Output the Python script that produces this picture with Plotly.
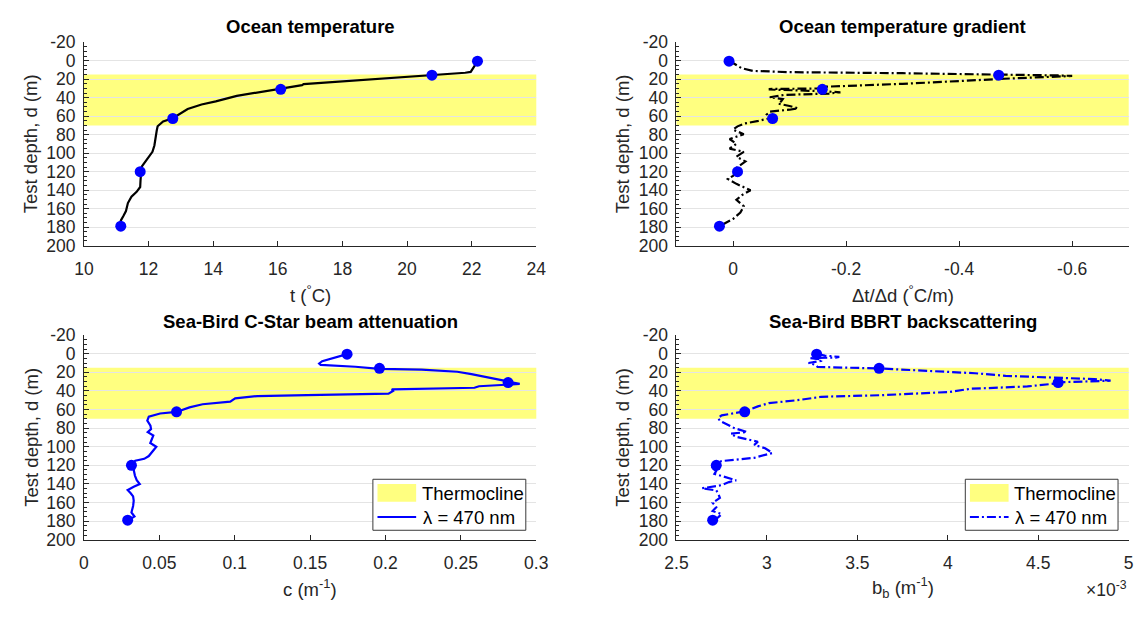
import plotly.graph_objects as go

# ---------------- data ----------------
temp_depth = [0.7, 5, 10, 12.1, 13, 15.6, 18.3, 20.8, 23.2, 25.3, 26.5, 30.4, 33.9, 38, 44, 47.4,
              52.2, 58.8, 62.3, 65.7, 70.9, 76, 81.3, 86, 91.7, 98.6, 103.8, 109, 114, 119.3,
              125, 130, 136.6, 141.8, 147, 154, 162.6, 168, 173, 178.8]
temp_c = [22.18, 22.1, 22.03, 21.97, 21.8, 20.77, 19.74, 18.65, 17.56, 16.8, 16.75, 16.09, 15.38,
          14.73, 14.08, 13.64, 13.21, 12.88, 12.75, 12.45, 12.28, 12.25, 12.23, 12.2, 12.18, 12.12,
          12.01, 11.9, 11.8, 11.74, 11.76, 11.75, 11.74, 11.63, 11.47, 11.36, 11.3, 11.22, 11.14, 11.14]

grad_depth = [0, 4, 8, 11, 12.4, 13.5, 14.5, 15.3, 16.0, 16.5, 17.5, 19.5, 22, 25, 28.2, 30, 30.6,
              31.2, 33, 34.2, 35.5, 37, 39.5, 41.5, 44, 46.5, 49, 51.5, 53, 55, 58, 61.5, 65, 68,
              71, 74.5, 79.5, 84.7, 89.9, 95.1, 98.6, 103.8, 109, 115.9, 120, 124.5, 128, 133.2,
              140.1, 145.3, 150.5, 157.4, 164.3, 171.2, 176, 179]
grad_val = [0.007, -0.003, -0.015, -0.035, -0.1, -0.3, -0.44, -0.52, -0.58, -0.6, -0.55, -0.48,
            -0.40, -0.30, -0.16, -0.155, -0.065, -0.065, -0.16, -0.19, -0.17, -0.09, -0.065, -0.088,
            -0.085, -0.08, -0.1, -0.115, -0.1, -0.065, -0.06, -0.07, -0.045, -0.02, -0.008, 0.0,
            -0.019, 0.006, -0.006, 0.006, -0.019, -0.006, -0.022, -0.006, -0.008, 0.0, 0.009, -0.006,
            -0.031, -0.016, -0.006, -0.019, -0.013, 0.0, 0.015, 0.024]

atten_depth = [0.5, 4, 8, 10.5, 12, 14, 16.2, 17, 19.4, 22, 25.6, 29, 32.5, 33.5, 35, 36.6, 38.4,
               40, 42.9, 44.6, 45.5, 48, 51.5, 54.3, 57.7, 62.6, 64.3, 67.7, 72, 77.4, 81, 84.3,
               88, 92, 96, 100, 105, 110, 113, 115, 118, 120.6, 125, 131, 136, 140.2, 143, 146.5,
               150, 153.4, 158, 163.7, 170.6, 175, 179.3]
atten_c = [0.1745, 0.166, 0.158, 0.156, 0.157, 0.18, 0.196, 0.224, 0.2476, 0.257, 0.269, 0.2786,
           0.289, 0.28, 0.262, 0.259, 0.2042, 0.205, 0.202, 0.148, 0.115, 0.1003, 0.097, 0.0787,
           0.07, 0.0614, 0.0505, 0.043, 0.042, 0.0441, 0.0445, 0.0423, 0.046, 0.045, 0.044, 0.048,
           0.0455, 0.043, 0.040, 0.034, 0.032, 0.0315, 0.033, 0.0338, 0.035, 0.037, 0.033, 0.029,
           0.031, 0.0326, 0.033, 0.0326, 0.0315, 0.0335, 0.029]

bb_depth = [0.5, 2, 3.5, 4.1, 4.8, 6, 7.6, 9, 10, 12, 14.2, 15.9, 18.6, 21, 23.8, 25.6, 27.3, 29,
            30.7, 32, 35.2, 37.7, 41.1, 44.6, 46.3, 49.7, 53.2, 56.6, 61.8, 66.3, 69, 72.2, 77.3,
            80, 84.2, 86, 89.4, 94.6, 98, 101.6, 106.7, 111.9, 115.4, 118, 120, 122.3, 126, 129.2,
            132, 136.1, 138, 141.3, 144.7, 147, 149.9, 155, 160.3, 165, 169, 172.4, 176, 180.3]
bb_e3 = [3.28, 3.32, 3.4, 3.38, 3.24, 3.30, 3.30, 3.25, 3.23, 3.27, 3.28, 3.625, 3.93, 4.15, 4.32,
         4.62, 4.81, 4.90, 4.62, 4.6, 4.44, 4.125, 4.01, 3.635, 3.30, 3.18, 3.01, 2.95, 2.88, 2.75,
         2.73, 2.74, 2.79, 2.82, 2.89, 2.80, 2.83, 2.95, 2.93, 2.99, 3.03, 2.93, 2.75, 2.72, 2.74,
         2.69, 2.72, 2.71, 2.76, 2.83, 2.79, 2.75, 2.64, 2.72, 2.73, 2.74, 2.70, 2.72, 2.70, 2.75,
         2.73, 2.70]

marker_depth = [0.5, 15.7, 31, 62.5, 120, 179]
temp_marker = [22.18, 20.77, 16.09, 12.75, 11.74, 11.14]
grad_marker = [0.007, -0.47, -0.158, -0.07, -0.008, 0.024]
atten_marker = [0.1745, 0.196, 0.2813, 0.0614, 0.0315, 0.029]
bb_marker = [3.275, 3.62, 4.61, 2.877, 2.72, 2.70]

thermocline_top, thermocline_bottom = 15, 70

depth_ticks = list(range(-20, 201, 20))
depth_minor = list(range(-20, 201, 5))
temp_ticks = [10, 12, 14, 16, 18, 20, 22, 24]
grad_ticks = [0, -0.2, -0.4, -0.6]
grad_ticktext = ["0", "-0.2", "-0.4", "-0.6"]
atten_ticks = [0, 0.05, 0.1, 0.15, 0.2, 0.25, 0.3]
atten_ticktext = ["0", "0.05", "0.1", "0.15", "0.2", "0.25", "0.3"]
bb_ticks = [2.5, 3, 3.5, 4, 4.5, 5]
bb_ticktext = ["2.5", "3", "3.5", "4", "4.5", "5"]

# ---------------- layout helpers ----------------
W, H = 1146, 617
FONT = "Liberation Sans, Arial, Helvetica, sans-serif"
AX = "#262626"
BLUE = "#0000ff"
YELLOW = "#ffff80"
GRID = "#e4e4e4"
DASHDOT = "9px,3px,2px,3px"


def X(px):
    return px / W


def Y(py):
    return 1 - py / H


COL_L = (73.5, 535.5)
COL_R = (678.7, 1140.6)
ROW_T = (33.3, 243.5)
ROW_B = (336.0, 547.5)

fig = go.Figure()

panels = [
    ("x", COL_L, ROW_T),
    ("x2", COL_R, ROW_T),
    ("x3", COL_L, ROW_B),
    ("x4", COL_R, ROW_B),
]

series = [
    (temp_c, temp_depth, temp_marker, "#000000", "solid"),
    (grad_val, grad_depth, grad_marker, "#000000", DASHDOT),
    (atten_c, atten_depth, atten_marker, BLUE, "solid"),
    (bb_e3, bb_depth, bb_marker, BLUE, DASHDOT),
]

for i, ((xs, ys, mx, col, dash), (xid, c, r)) in enumerate(zip(series, panels)):
    yid = "y" if i == 0 else f"y{i + 1}"
    fig.add_trace(go.Scatter(x=xs, y=ys, mode="lines", xaxis=xid, yaxis=yid,
                             line=dict(color=col, width=2.2, dash=dash), showlegend=False,
                             hoverinfo="skip"))
    fig.add_trace(go.Scatter(x=mx, y=marker_depth, mode="markers", xaxis=xid, yaxis=yid,
                             marker=dict(color=BLUE, size=11, line=dict(width=0)),
                             showlegend=False, hoverinfo="skip"))
    fig.add_shape(type="rect", xref=f"{xid} domain", yref=yid, x0=0, x1=1,
                  y0=thermocline_top, y1=thermocline_bottom, fillcolor=YELLOW,
                  line=dict(width=0), layer="below")


def xaxis(col, anchor, rng, tv, tt):
    return dict(domain=[X(col[0]), X(col[1])], anchor=anchor, range=rng,
                tickmode="array", tickvals=tv, ticktext=tt,
                showline=True, linecolor=AX, linewidth=1, ticks="inside", ticklen=5,
                tickcolor=AX, tickfont=dict(size=17.5, color=AX, family=FONT),
                showgrid=False, zeroline=False, ticklabelstandoff=7)


def yaxis(row, anchor):
    return dict(domain=[Y(row[1]), Y(row[0])], anchor=anchor, range=[200, -20],
                tickmode="array", tickvals=depth_ticks, ticktext=[str(v) for v in depth_ticks],
                showline=True, linecolor=AX, linewidth=1, ticks="inside", ticklen=5,
                tickcolor=AX, tickfont=dict(size=17.5, color=AX, family=FONT),
                showgrid=True, gridcolor=GRID, gridwidth=1, zeroline=False,
                ticklabelstandoff=4,
                minor=dict(tickvals=depth_minor, ticks="inside", ticklen=3, tickcolor=AX,
                           showgrid=False))


fig.update_layout(
    width=W, height=H, margin=dict(l=0, r=0, t=0, b=0),
    paper_bgcolor="white", plot_bgcolor="white",
    font=dict(family=FONT, color=AX),
    hovermode=False,
    xaxis=xaxis(COL_L, "y", [10, 24], temp_ticks, [str(v) for v in temp_ticks]),
    xaxis2=xaxis(COL_R, "y2", [0.1, -0.7], grad_ticks, grad_ticktext),
    xaxis3=xaxis(COL_L, "y3", [0, 0.3], atten_ticks, atten_ticktext),
    xaxis4=xaxis(COL_R, "y4", [2.5, 5], bb_ticks, bb_ticktext),
    yaxis=yaxis(ROW_T, "x"),
    yaxis2=yaxis(ROW_T, "x2"),
    yaxis3=yaxis(ROW_B, "x3"),
    yaxis4=yaxis(ROW_B, "x4"),
    showlegend=False,
)

ann = []
titles = ["Ocean temperature", "Ocean temperature gradient",
          "Sea-Bird C-Star beam attenuation", "Sea-Bird BBRT backscattering"]
xtitles = ["t (<sup>°</sup>C)", "Δt/Δd (<sup>°</sup>C/m)", "c (m<sup>-1</sup>)",
           "b<sub>b</sub> (m<sup>-1</sup>)"]
title_y = [17.3, 17.3, 321.7, 321.7]
xtitle_y = [293, 293, 597, 597]
for (xid, c, r), t, xt, ty, xty in zip(panels, titles, xtitles, title_y, xtitle_y):
    cx = (c[0] + c[1]) / 2
    ann.append(dict(text=f"<b>{t}</b>", x=X(cx), y=Y(ty), xref="paper", yref="paper",
                    xanchor="center", yanchor="middle", showarrow=False,
                    font=dict(size=18.5, color="#000000", family=FONT)))
    ann.append(dict(text=xt, x=X(cx), y=Y(xty), xref="paper", yref="paper",
                    xanchor="center", yanchor="middle", showarrow=False,
                    font=dict(size=18.5, color=AX, family=FONT)))
    ytx = 19.7 if c == COL_L else 623.5
    ann.append(dict(text="Test depth, d (m)", x=X(ytx), y=Y((r[0] + r[1]) / 2),
                    xref="paper", yref="paper", xanchor="center", yanchor="middle",
                    textangle=-90, showarrow=False,
                    font=dict(size=18.5, color=AX, family=FONT)))

ann.append(dict(text="×10<sup>-3</sup>", x=X(1141), y=Y(598), xref="paper", yref="paper",
                xanchor="right", yanchor="middle", showarrow=False,
                font=dict(size=17.5, color=AX, family=FONT)))

# manual legends (bottom panels)
shapes = []
for box_x0, box_x1, dash in [(368.6, 524.8, "solid"), (973.7, 1129.7, DASHDOT)]:
    shapes.append(dict(type="rect", xref="paper", yref="paper", x0=X(box_x0), x1=X(box_x1),
                       y0=Y(537.7), y1=Y(485), fillcolor="white",
                       line=dict(color="#3a3a3a", width=1), layer="above"))
    sx0 = box_x0 + 4.7
    sx1 = sx0 + 39.5
    shapes.append(dict(type="rect", xref="paper", yref="paper", x0=X(sx0), x1=X(sx1),
                       y0=Y(508.3), y1=Y(490), fillcolor=YELLOW, line=dict(width=0),
                       layer="above"))
    shapes.append(dict(type="line", xref="paper", yref="paper", x0=X(sx0), x1=X(sx1),
                       y0=Y(524), y1=Y(524), line=dict(color=BLUE, width=2.2, dash=dash),
                       layer="above"))
    ann.append(dict(text="Thermocline", x=X(sx1 + 3.5), y=Y(499.3), xref="paper",
                    yref="paper", xanchor="left", yanchor="middle", showarrow=False,
                    font=dict(size=18.5, color="#000000", family=FONT)))
    ann.append(dict(text="λ = 470 nm", x=X(sx1 + 5), y=Y(524), xref="paper",
                    yref="paper", xanchor="left", yanchor="middle", showarrow=False,
                    font=dict(size=18.5, color="#000000", family=FONT)))

for s in shapes:
    fig.add_shape(**s)
fig.update_layout(annotations=ann)

fig.write_html("out.html",
               config={"displayModeBar": False, "staticPlot": True},
               post_script="document.body.style.margin='0';document.body.style.overflow='hidden';")
